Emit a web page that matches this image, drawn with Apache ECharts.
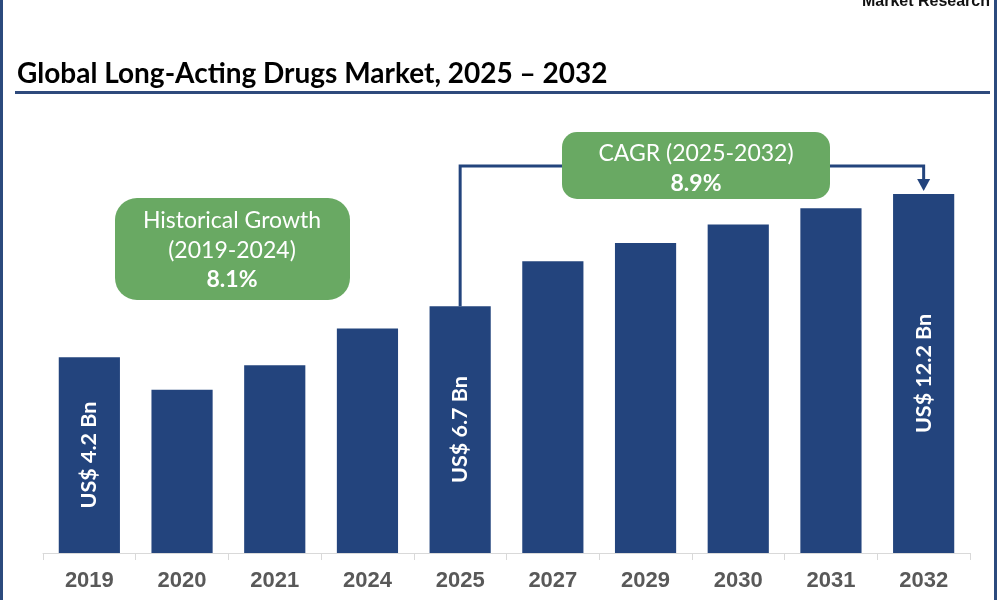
<!DOCTYPE html>
<html>
<head>
<meta charset="utf-8">
<script src="https://cdn.jsdelivr.net/npm/echarts@6/dist/echarts.min.js"></script>
<style>
html,body{margin:0;padding:0;background:#fff;}
#chart{width:1000px;height:600px;}
</style>
</head>
<body>
<div id="chart"></div>
<script>
var categories = ['2019', '2020', '2021', '2024', '2025', '2027', '2029', '2030', '2031', '2032'];
var values = [4.2, 2.6, 3.8, 5.6, 6.7, 8.9, 9.8, 10.7, 11.5, 12.2];
var barLabels = ['US$ 4.2 Bn', '', '', '', 'US$ 6.7 Bn', '', '', '', '', 'US$ 12.2 Bn'];
var titleText = 'Global Long-Acting Drugs Market, 2025 \u2013 2032';
var historicalLines = ['Historical Growth', '(2019-2024)', '8.1%'];
var cagrLines = ['CAGR (2025-2032)', '8.9%'];

var BLUE = '#23447d';
var GREEN = '#69a963';

var chart = echarts.init(document.getElementById('chart'), null, {renderer: 'canvas'});

var option = {
  animation: false,
  backgroundColor: '#ffffff',
  grid: {left: 43, right: 30, top: 96, bottom: 47},
  xAxis: {
    type: 'category',
    data: categories,
    axisLine: {onZero: false, lineStyle: {color: '#d9d9d9', width: 1}},
    axisTick: {show: true, length: 7, lineStyle: {color: '#d9d9d9'}},
    axisLabel: {
      margin: 17,
      color: '#595959',
      fontFamily: 'Liberation Sans',
      fontWeight: 'bold',
      fontSize: 22
    }
  },
  yAxis: {
    type: 'value',
    min: -5.4,
    max: 17,
    startValue: -5.4,
    show: false,
    splitLine: {show: false}
  },
  series: [{
    type: 'bar',
    data: values,
    barWidth: '66%',
    itemStyle: {color: BLUE},
    label: {
      show: true,
      position: 'inside',
      rotate: 90,
      color: '#ffffff',
      fontFamily: 'Lato',
      fontWeight: 'bold',
      fontSize: 21.5,
      formatter: function (p) { return barLabels[p.dataIndex]; }
    }
  }]
};
chart.setOption(option);

var p2025 = chart.convertToPixel({xAxisIndex: 0, yAxisIndex: 0}, [categories[4], values[4]]);
var p2032 = chart.convertToPixel({xAxisIndex: 0, yAxisIndex: 0}, [categories[9], values[9]]);
var lineY = 166;

function textEl(x, y, txt, size, weight, color, family, align) {
  return {
    type: 'text', x: x, y: y, z: 20,
    style: {
      text: txt, fill: color, fontSize: size, fontWeight: weight,
      fontFamily: family, align: align || 'center', verticalAlign: 'middle'
    }
  };
}

var graphics = [
  {type: 'rect', shape: {x: 0, y: 0, width: 3, height: 600}, style: {fill: '#2b4a7d'}, z: 10},
  {type: 'rect', shape: {x: 994, y: 0, width: 3, height: 600}, style: {fill: '#2b4a7d'}, z: 10},
  {type: 'text', x: 990, y: 10, z: 10, style: {text: 'Market Research', fill: '#111', fontSize: 16, fontWeight: 900, fontFamily: 'Liberation Sans', align: 'right', verticalAlign: 'bottom'}},
  textEl(17, 74, titleText, 28, 'bold', '#000000', 'Lato', 'left'),
  {type: 'rect', shape: {x: 15, y: 91, width: 975, height: 3}, style: {fill: '#2e4a7c'}, z: 10},
  {type: 'polyline', z: 5, shape: {points: [[p2025[0], p2025[1]], [p2025[0], lineY], [p2032[0], lineY], [p2032[0], p2032[1] - 12]]}, style: {stroke: BLUE, lineWidth: 3, fill: null}},
  {type: 'polygon', z: 5, shape: {points: [[p2032[0] - 6.5, p2032[1] - 15], [p2032[0] + 6.5, p2032[1] - 15], [p2032[0], p2032[1] - 3]]}, style: {fill: BLUE}},
  {type: 'rect', z: 15, shape: {x: 562, y: 132, width: 268, height: 67, r: 15}, style: {fill: GREEN}},
  textEl(696, 154, cagrLines[0], 23, 'normal', '#ffffff', 'Lato'),
  textEl(696, 184, cagrLines[1], 23, 'bold', '#ffffff', 'Lato'),
  {type: 'rect', z: 15, shape: {x: 115, y: 198, width: 235, height: 102, r: 22}, style: {fill: GREEN}},
  textEl(232, 221, historicalLines[0], 23, 'normal', '#ffffff', 'Lato'),
  textEl(232, 251, historicalLines[1], 23, 'normal', '#ffffff', 'Lato'),
  textEl(232, 280, historicalLines[2], 23, 'bold', '#ffffff', 'Lato')
];
chart.setOption({graphic: graphics});
</script>
</body>
</html>
